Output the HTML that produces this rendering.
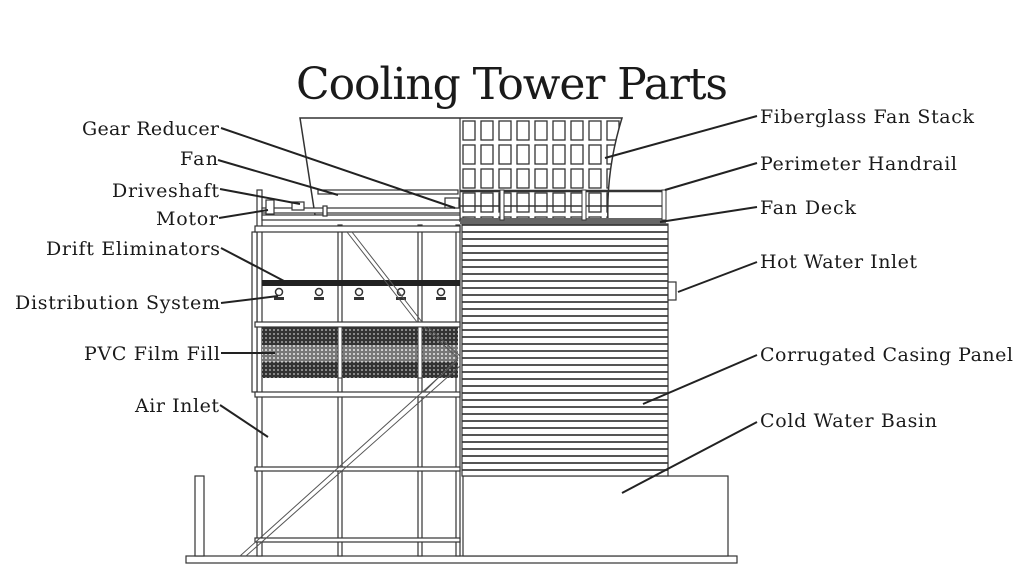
<!DOCTYPE html>
<html><head><style>
html,body{margin:0;padding:0;background:#fff;}
svg{display:block;}
text{font-family:"DejaVu Serif","Liberation Serif",serif;fill:#1a1a1a;}
</style></head><body>
<svg width="1024" height="576" viewBox="0 0 1024 576" xmlns="http://www.w3.org/2000/svg">
<defs>
<pattern id="mesh" width="4" height="4" patternUnits="userSpaceOnUse">
<rect width="4" height="4" fill="#333"/><rect x="1" y="1" width="2" height="2" fill="#888"/></pattern>
<pattern id="mesh2" width="4" height="4" patternUnits="userSpaceOnUse">
<rect width="4" height="4" fill="#777"/><rect x="1" y="1" width="2" height="2" fill="#ccc"/></pattern>
<pattern id="corr" width="10" height="7" patternUnits="userSpaceOnUse">
<rect width="10" height="7" fill="#fff"/><rect y="0" width="10" height="2" fill="#555"/></pattern>
<pattern id="grid" x="460" y="118" width="18" height="24" patternUnits="userSpaceOnUse">
<rect x="3" y="3" width="12" height="19" fill="none" stroke="#333" stroke-width="1.3"/></pattern>
<clipPath id="stk"><path d="M460,118 L622,118 Q606,170 608,222 L460,222 Z"/></clipPath>
</defs>

<text x="512" y="99" font-size="44" text-anchor="middle" textLength="432">Cooling Tower Parts</text>

<!-- fan stack -->
<path d="M300,118 L622,118 Q606,170 608,222 L315,215 Z" fill="#fff" stroke="#333" stroke-width="1.5"/>
<rect x="460" y="118" width="165" height="104" fill="url(#grid)" clip-path="url(#stk)"/>
<line x1="460" y1="118" x2="460" y2="222" stroke="#333" stroke-width="1.2"/>

<!-- base -->
<rect x="186" y="556" width="551" height="7" fill="#fff" stroke="#333" stroke-width="1.2"/>
<rect x="195" y="476" width="9" height="80" fill="#fff" stroke="#333" stroke-width="1.2"/>
<rect x="463" y="476" width="265" height="80" fill="#fff" stroke="#333" stroke-width="1.2"/>

<!-- casing -->
<rect x="462" y="224" width="206" height="252" fill="url(#corr)" stroke="#333" stroke-width="1.2"/>
<rect x="668" y="282" width="8" height="18" fill="#fff" stroke="#333" stroke-width="1.2"/>

<!-- deck and handrail -->
<rect x="460" y="218" width="206" height="6" fill="#666"/>
<line x1="460" y1="191" x2="666" y2="191" stroke="#333" stroke-width="2.5"/>
<line x1="460" y1="206" x2="666" y2="206" stroke="#333" stroke-width="1.5"/>
<rect x="500" y="190" width="4" height="30" fill="#fff" stroke="#333"/>
<rect x="582" y="190" width="4" height="30" fill="#fff" stroke="#333"/>
<rect x="662" y="190" width="4" height="30" fill="#fff" stroke="#333"/>

<!-- left frame -->
<g fill="#fff" stroke="#333" stroke-width="1.2">
<rect x="257" y="190" width="5" height="366"/>
<rect x="252" y="232" width="5" height="160"/>
<rect x="338" y="225" width="4" height="331"/>
<rect x="418" y="225" width="4" height="331"/>
<rect x="456" y="225" width="4" height="331"/>
<rect x="255" y="226" width="205" height="6"/>
<rect x="255" y="322" width="205" height="5"/>
<rect x="255" y="392" width="205" height="5"/>
<rect x="255" y="467" width="205" height="4"/>
<rect x="255" y="538" width="205" height="4"/>
</g>
<rect x="262" y="280" width="198" height="6" fill="#222"/>
<g fill="#fff" stroke="#333" stroke-width="1.5">
<circle cx="279" cy="292" r="3.5"/><circle cx="319" cy="292" r="3.5"/><circle cx="359" cy="292" r="3.5"/><circle cx="401" cy="292" r="3.5"/><circle cx="441" cy="292" r="3.5"/>
</g>
<g fill="#333"><rect x="274" y="297" width="10" height="3"/><rect x="314" y="297" width="10" height="3"/><rect x="354" y="297" width="10" height="3"/><rect x="396" y="297" width="10" height="3"/><rect x="436" y="297" width="10" height="3"/></g>
<rect x="262" y="327" width="196" height="51" fill="url(#mesh)"/>
<rect x="262" y="345" width="196" height="17" fill="url(#mesh2)"/>
<g fill="#fff" stroke="#333" stroke-width="1">
<rect x="338" y="327" width="4" height="51"/><rect x="418" y="327" width="4" height="51"/>
</g>
<g stroke="#555" stroke-width="1" fill="none">
<path d="M347,232 L417,322 M352,232 L422,322"/>
<path d="M424,327 L458,358 L424,392 M428,327 L460,356"/>
<path d="M240,556 L458,360 M246,556 L460,366"/>
</g>

<!-- machinery -->
<g fill="#fff" stroke="#333" stroke-width="1.2">
<rect x="262" y="208" width="198" height="5"/>
<rect x="262" y="215" width="198" height="5"/>
<rect x="266" y="200" width="8" height="14"/>
<rect x="292" y="202" width="12" height="8"/>
<rect x="318" y="190" width="140" height="4"/>
<rect x="445" y="198" width="14" height="10"/>
<rect x="323" y="206" width="4" height="10"/>
</g>

<g stroke="#222" stroke-width="2" fill="none">
<line x1="221" y1="128" x2="455" y2="208"/>
<line x1="218" y1="160" x2="338" y2="195"/>
<line x1="220" y1="189" x2="300" y2="204"/>
<line x1="219" y1="218" x2="268" y2="210"/>
<line x1="221" y1="248" x2="284" y2="281"/>
<line x1="221" y1="303" x2="278" y2="296"/>
<line x1="221" y1="353" x2="275" y2="353"/>
<line x1="220" y1="405" x2="268" y2="437"/>
<line x1="757" y1="116" x2="605" y2="158"/>
<line x1="757" y1="163" x2="665" y2="190"/>
<line x1="757" y1="207" x2="660" y2="222"/>
<line x1="757" y1="262" x2="678" y2="292"/>
<line x1="757" y1="355" x2="643" y2="404"/>
<line x1="757" y1="422" x2="622" y2="493"/>
</g>

<g font-size="19" text-anchor="end">
<text x="219" y="135" textLength="137">Gear Reducer</text>
<text x="218" y="165" textLength="38">Fan</text>
<text x="219" y="197" textLength="107">Driveshaft</text>
<text x="218" y="225" textLength="62">Motor</text>
<text x="220" y="255" textLength="174">Drift Eliminators</text>
<text x="220" y="309" textLength="205">Distribution System</text>
<text x="220" y="360" textLength="136">PVC Film Fill</text>
<text x="219" y="412" textLength="84">Air Inlet</text>
</g>
<g font-size="19">
<text x="760" y="123" textLength="214">Fiberglass Fan Stack</text>
<text x="760" y="170" textLength="197">Perimeter Handrail</text>
<text x="760" y="214" textLength="96">Fan Deck</text>
<text x="760" y="268" textLength="157">Hot Water Inlet</text>
<text x="760" y="361" textLength="253">Corrugated Casing Panel</text>
<text x="760" y="427" textLength="177">Cold Water Basin</text>
</g>
</svg>
</body></html>
